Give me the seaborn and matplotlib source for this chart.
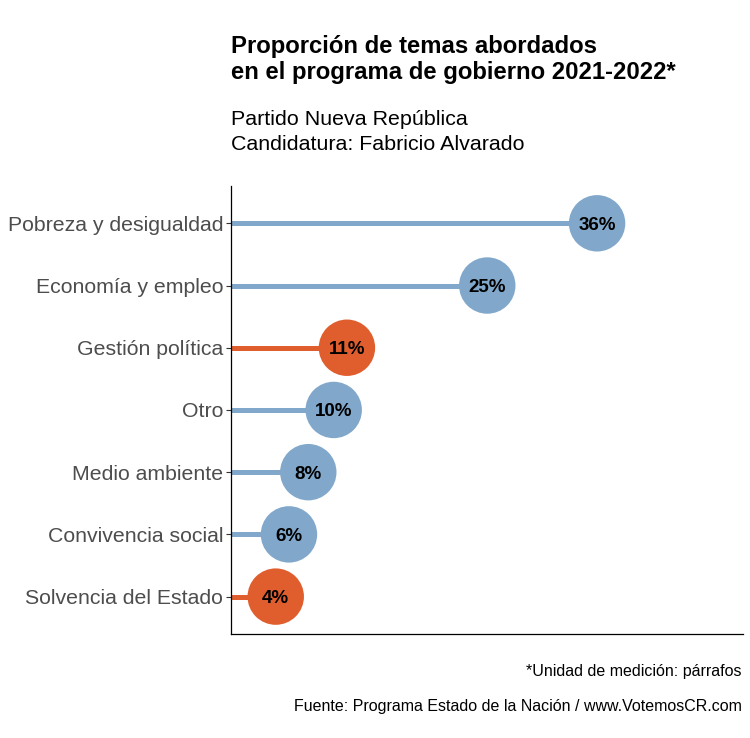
import matplotlib.pyplot as plt
import numpy as np
import pandas as pd
import seaborn as sns


# Topics of the government programme, top to bottom
temas = [
    "Pobreza y desigualdad",
    "Economía y empleo",
    "Gestión política",
    "Otro",
    "Medio ambiente",
    "Convivencia social",
    "Solvencia del Estado",
]
proporcion = [36.0, 25.2, 11.4, 10.1, 7.6, 5.7, 4.4]
etiquetas = ["36%", "25%", "11%", "10%", "8%", "6%", "4%"]
destacados = ["Gestión política", "Solvencia del Estado"]

AZUL = "#81a8cb"
NARANJA = "#e05e2d"

df = pd.DataFrame({"tema": temas, "valor": proporcion, "etiqueta": etiquetas})
df["pos"] = np.arange(len(df))[::-1]
df["grupo"] = np.where(df["tema"].isin(destacados), "destacado", "resto")
paleta = {"destacado": NARANJA, "resto": AZUL}

sns.set_theme(style="ticks")
plt.rcParams["font.family"] = ["Liberation Sans", "DejaVu Sans"]

W, H = 750, 738
fig = plt.figure(figsize=(W / 100, H / 100), dpi=100)
ax = fig.add_axes([0.308, 0.141, 0.682, 0.607])

# stems
ax.hlines(
    y=df["pos"], xmin=0, xmax=df["valor"],
    colors=df["grupo"].map(paleta), linewidth=3.6, zorder=1,
)

# dots
sns.scatterplot(
    data=df, x="valor", y="pos", hue="grupo", palette=paleta,
    s=1650, linewidth=0, legend=False, ax=ax, zorder=2,
)

for _, fila in df.iterrows():
    ax.text(
        fila["valor"], fila["pos"], fila["etiqueta"],
        ha="center", va="center_baseline", fontsize=13.5, fontweight="bold",
        color="black", zorder=3,
    )

ax.set_xlim(0, 50.3)
ax.set_ylim(-0.6, len(df) - 0.4)
ax.set_yticks(df["pos"])
ax.set_yticklabels(df["tema"], fontsize=15.3, color="#4d4d4d")
ax.set_xticks([])
ax.set_xlabel("")
ax.set_ylabel("")
ax.tick_params(axis="y", length=3.5, width=0.8, color="#333333", pad=2)
for lado in ["top", "right"]:
    ax.spines[lado].set_visible(False)
for lado in ["left", "bottom"]:
    ax.spines[lado].set_linewidth(0.9)
    ax.spines[lado].set_color("black")


def texto(x_px, y_px, s, **kw):
    fig.text(x_px / W, 1 - y_px / H, s, va="baseline", color="black", **kw)


texto(231, 53, "Proporción de temas abordados", fontsize=17.2, fontweight="bold")
texto(231, 79, "en el programa de gobierno 2021-2022*", fontsize=17.2, fontweight="bold")
texto(231, 125, "Partido Nueva República", fontsize=15.4)
texto(231, 150, "Candidatura: Fabricio Alvarado", fontsize=15.4)
texto(742, 676, "*Unidad de medición: párrafos", ha="right", fontsize=11.5)
texto(742, 711, "Fuente: Programa Estado de la Nación / www.VotemosCR.com",
      ha="right", fontsize=11.5)

fig.savefig("out.png", dpi=100)
